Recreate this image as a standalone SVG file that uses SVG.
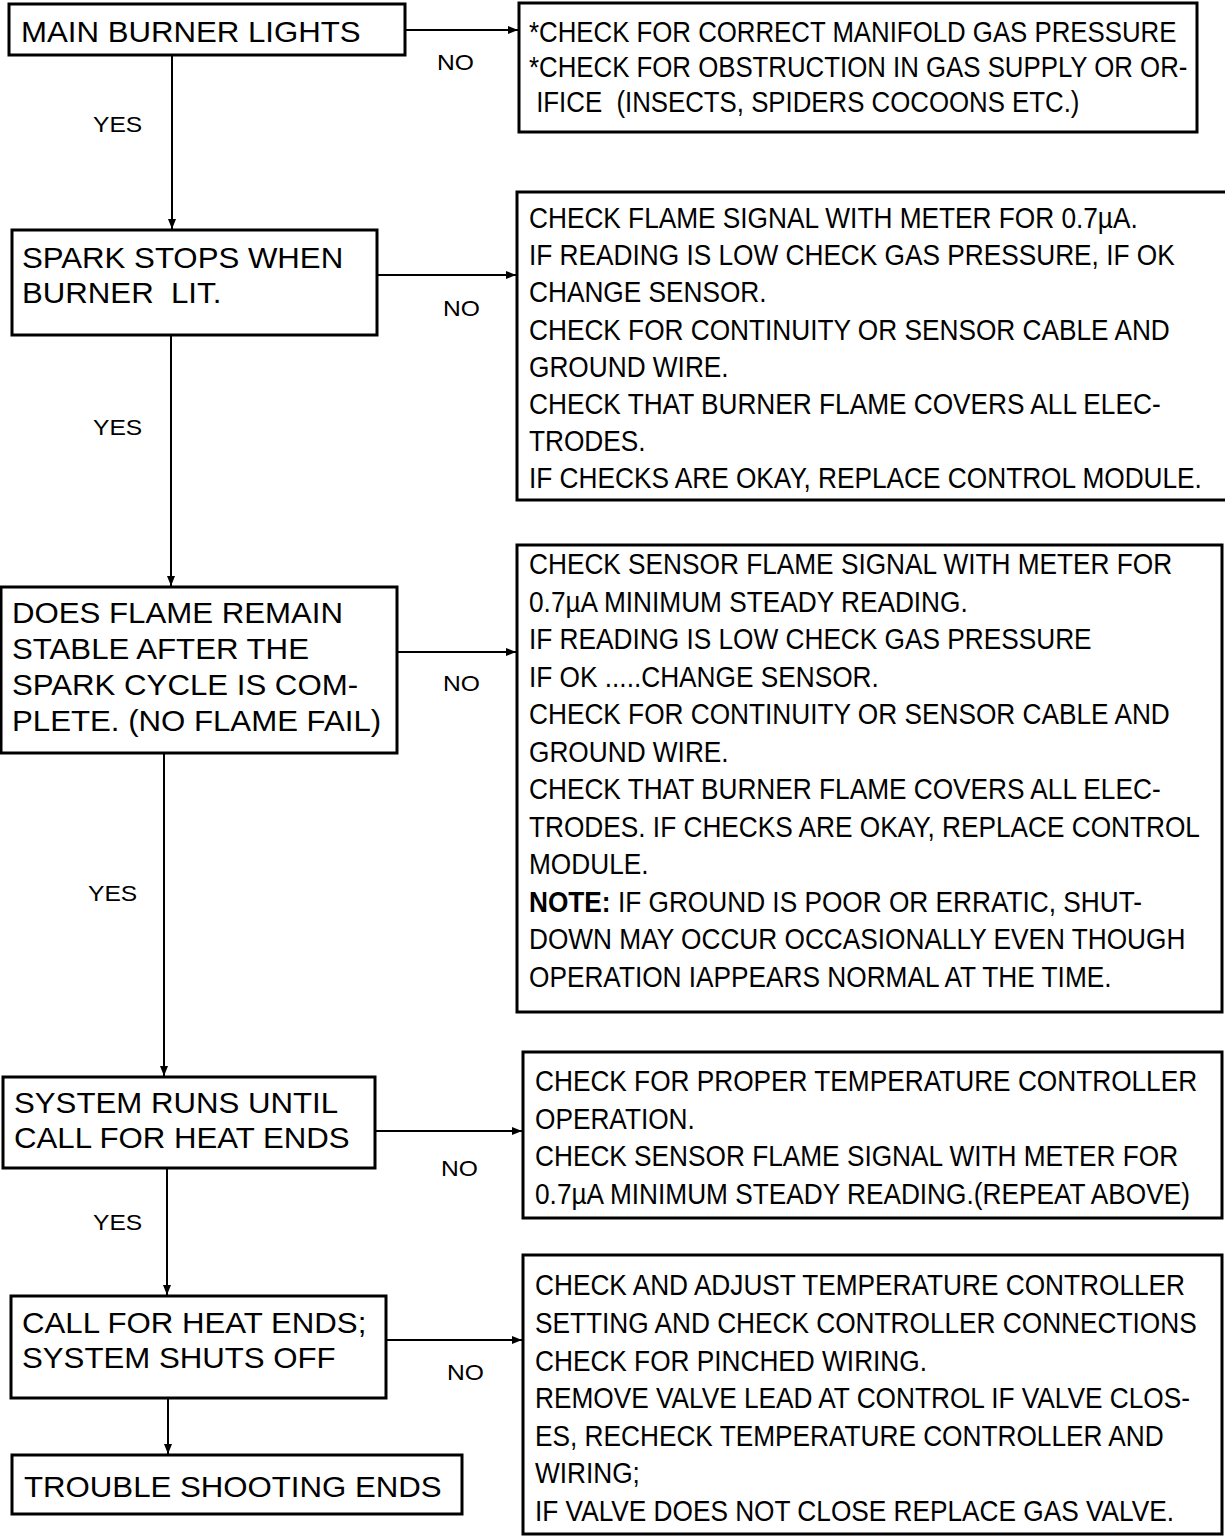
<svg xmlns="http://www.w3.org/2000/svg" width="1225" height="1536" viewBox="0 0 1225 1536">
<style>
.box{fill:#fff;stroke:#000;stroke-width:3}
.lt{font-family:"Liberation Sans",Arial,sans-serif;font-size:30px;fill:#000}
.rt{font-family:"Liberation Sans",Arial,sans-serif;font-size:29px;fill:#000}
.lb{font-family:"Liberation Sans",Arial,sans-serif;font-size:22px;fill:#000}
.cn{stroke:#000;stroke-width:2;fill:none}
</style>
<defs>
<marker id="ah" viewBox="0 0 10 8" refX="10" refY="4" markerWidth="10" markerHeight="8" markerUnits="userSpaceOnUse" orient="auto">
<path d="M0,0 L10,4 L0,8 Z" fill="#000"/>
</marker>
</defs>
<rect width="1225" height="1536" fill="#fff"/>

<g id="connectors">
<line class="cn" x1="397" y1="30" x2="518" y2="30" marker-end="url(#ah)"/>
<line class="cn" x1="377" y1="275" x2="516" y2="275" marker-end="url(#ah)"/>
<line class="cn" x1="397" y1="652" x2="516" y2="652" marker-end="url(#ah)"/>
<line class="cn" x1="375" y1="1131" x2="522" y2="1131" marker-end="url(#ah)"/>
<line class="cn" x1="383" y1="1340" x2="522" y2="1340" marker-end="url(#ah)"/>
<line class="cn" x1="172" y1="55" x2="172" y2="229" marker-end="url(#ah)"/>
<line class="cn" x1="171" y1="335" x2="171" y2="586" marker-end="url(#ah)"/>
<line class="cn" x1="164" y1="753" x2="164" y2="1076" marker-end="url(#ah)"/>
<line class="cn" x1="167" y1="1168" x2="167" y2="1295" marker-end="url(#ah)"/>
<line class="cn" x1="168" y1="1396" x2="168" y2="1454" marker-end="url(#ah)"/>
<g class="lb">
<text transform="translate(437 70) scale(1.12 1)">NO</text>
<text transform="translate(93 132) scale(1.12 1)">YES</text>
<text transform="translate(443 316) scale(1.12 1)">NO</text>
<text transform="translate(93 435) scale(1.12 1)">YES</text>
<text transform="translate(443 691) scale(1.12 1)">NO</text>
<text transform="translate(88 901) scale(1.12 1)">YES</text>
<text transform="translate(441 1176) scale(1.12 1)">NO</text>
<text transform="translate(93 1230) scale(1.12 1)">YES</text>
<text transform="translate(447 1380) scale(1.12 1)">NO</text>
</g>
</g>

<g id="n1">
<rect class="box" x="9" y="4" width="396" height="51"/>
<text class="lt" transform="translate(21 42) scale(1.04 1)">MAIN BURNER LIGHTS</text>
</g>
<g id="n2">
<rect class="box" x="12" y="230" width="365" height="105"/>
<text class="lt" transform="translate(22 268) scale(1.04 1)">SPARK STOPS WHEN</text>
<text class="lt" transform="translate(22 303) scale(1.04 1)" xml:space="preserve">BURNER  LIT.</text>
</g>
<g id="n3">
<rect class="box" x="1" y="587" width="396" height="166"/>
<text class="lt" transform="translate(12 623) scale(1.04 1)">DOES FLAME REMAIN</text>
<text class="lt" transform="translate(12 659) scale(1.04 1)">STABLE AFTER THE</text>
<text class="lt" transform="translate(12 695) scale(1.04 1)">SPARK CYCLE IS COM-</text>
<text class="lt" transform="translate(12 731) scale(1.04 1)">PLETE. (NO FLAME FAIL)</text>
</g>
<g id="n4">
<rect class="box" x="3" y="1077" width="372" height="91"/>
<text class="lt" transform="translate(14 1113) scale(1.04 1)">SYSTEM RUNS UNTIL</text>
<text class="lt" transform="translate(14 1148) scale(1.04 1)">CALL FOR HEAT ENDS</text>
</g>
<g id="n5">
<rect class="box" x="11" y="1296" width="375" height="102"/>
<text class="lt" transform="translate(22 1333) scale(1.04 1)">CALL FOR HEAT ENDS;</text>
<text class="lt" transform="translate(22 1368) scale(1.04 1)">SYSTEM SHUTS OFF</text>
</g>
<g id="n6">
<rect class="box" x="12" y="1455" width="450" height="59"/>
<text class="lt" transform="translate(24 1497) scale(1.04 1)">TROUBLE SHOOTING ENDS</text>
</g>

<g id="r1">
<rect class="box" x="519" y="3" width="678" height="129"/>
<g class="rt" transform="translate(529 0) scale(0.89 1)">
<text x="0" y="42">*CHECK FOR CORRECT MANIFOLD GAS PRESSURE</text>
<text x="0" y="77">*CHECK FOR OBSTRUCTION IN GAS SUPPLY OR OR-</text>
<text x="0" y="112" xml:space="preserve"> IFICE  (INSECTS, SPIDERS COCOONS ETC.)</text>
</g>
</g>
<g id="r2">
<rect class="box" x="517" y="192" width="712" height="308"/>
<g class="rt" transform="translate(529 0) scale(0.905 1)">
<text x="0" y="228">CHECK FLAME SIGNAL WITH METER FOR 0.7µA.</text>
<text x="0" y="265">IF READING IS LOW CHECK GAS PRESSURE, IF OK</text>
<text x="0" y="302">CHANGE SENSOR.</text>
<text x="0" y="340">CHECK FOR CONTINUITY OR SENSOR CABLE AND</text>
<text x="0" y="377">GROUND WIRE.</text>
<text x="0" y="414">CHECK THAT BURNER FLAME COVERS ALL ELEC-</text>
<text x="0" y="451">TRODES.</text>
<text x="0" y="488">IF CHECKS ARE OKAY, REPLACE CONTROL MODULE.</text>
</g>
</g>
<g id="r3">
<rect class="box" x="517" y="545" width="705" height="467"/>
<g class="rt" transform="translate(529 0) scale(0.905 1)">
<text x="0" y="574">CHECK SENSOR FLAME SIGNAL WITH METER FOR</text>
<text x="0" y="612">0.7µA MINIMUM STEADY READING.</text>
<text x="0" y="649">IF READING IS LOW CHECK GAS PRESSURE</text>
<text x="0" y="687">IF OK .....CHANGE SENSOR.</text>
<text x="0" y="724">CHECK FOR CONTINUITY OR SENSOR CABLE AND</text>
<text x="0" y="762">GROUND WIRE.</text>
<text x="0" y="799">CHECK THAT BURNER FLAME COVERS ALL ELEC-</text>
<text x="0" y="837">TRODES. IF CHECKS ARE OKAY, REPLACE CONTROL</text>
<text x="0" y="874">MODULE.</text>
<text x="0" y="912"><tspan font-weight="bold">NOTE:</tspan> IF GROUND IS POOR OR ERRATIC, SHUT-</text>
<text x="0" y="949">DOWN MAY OCCUR OCCASIONALLY EVEN THOUGH</text>
<text x="0" y="987">OPERATION IAPPEARS NORMAL AT THE TIME.</text>
</g>
</g>
<g id="r4">
<rect class="box" x="523" y="1052" width="699" height="166"/>
<g class="rt" transform="translate(535 0) scale(0.905 1)">
<text x="0" y="1091">CHECK FOR PROPER TEMPERATURE CONTROLLER</text>
<text x="0" y="1129">OPERATION.</text>
<text x="0" y="1166">CHECK SENSOR FLAME SIGNAL WITH METER FOR</text>
<text x="0" y="1204">0.7µA MINIMUM STEADY READING.(REPEAT ABOVE)</text>
</g>
</g>
<g id="r5">
<rect class="box" x="523" y="1255" width="699" height="279"/>
<g class="rt" transform="translate(535 0) scale(0.905 1)">
<text x="0" y="1295">CHECK AND ADJUST TEMPERATURE CONTROLLER</text>
<text x="0" y="1333">SETTING AND CHECK CONTROLLER CONNECTIONS</text>
<text x="0" y="1371">CHECK FOR PINCHED WIRING.</text>
<text x="0" y="1408">REMOVE VALVE LEAD AT CONTROL IF VALVE CLOS-</text>
<text x="0" y="1446">ES, RECHECK TEMPERATURE CONTROLLER AND</text>
<text x="0" y="1483">WIRING;</text>
<text x="0" y="1521">IF VALVE DOES NOT CLOSE REPLACE GAS VALVE.</text>
</g>
</g>
</svg>
